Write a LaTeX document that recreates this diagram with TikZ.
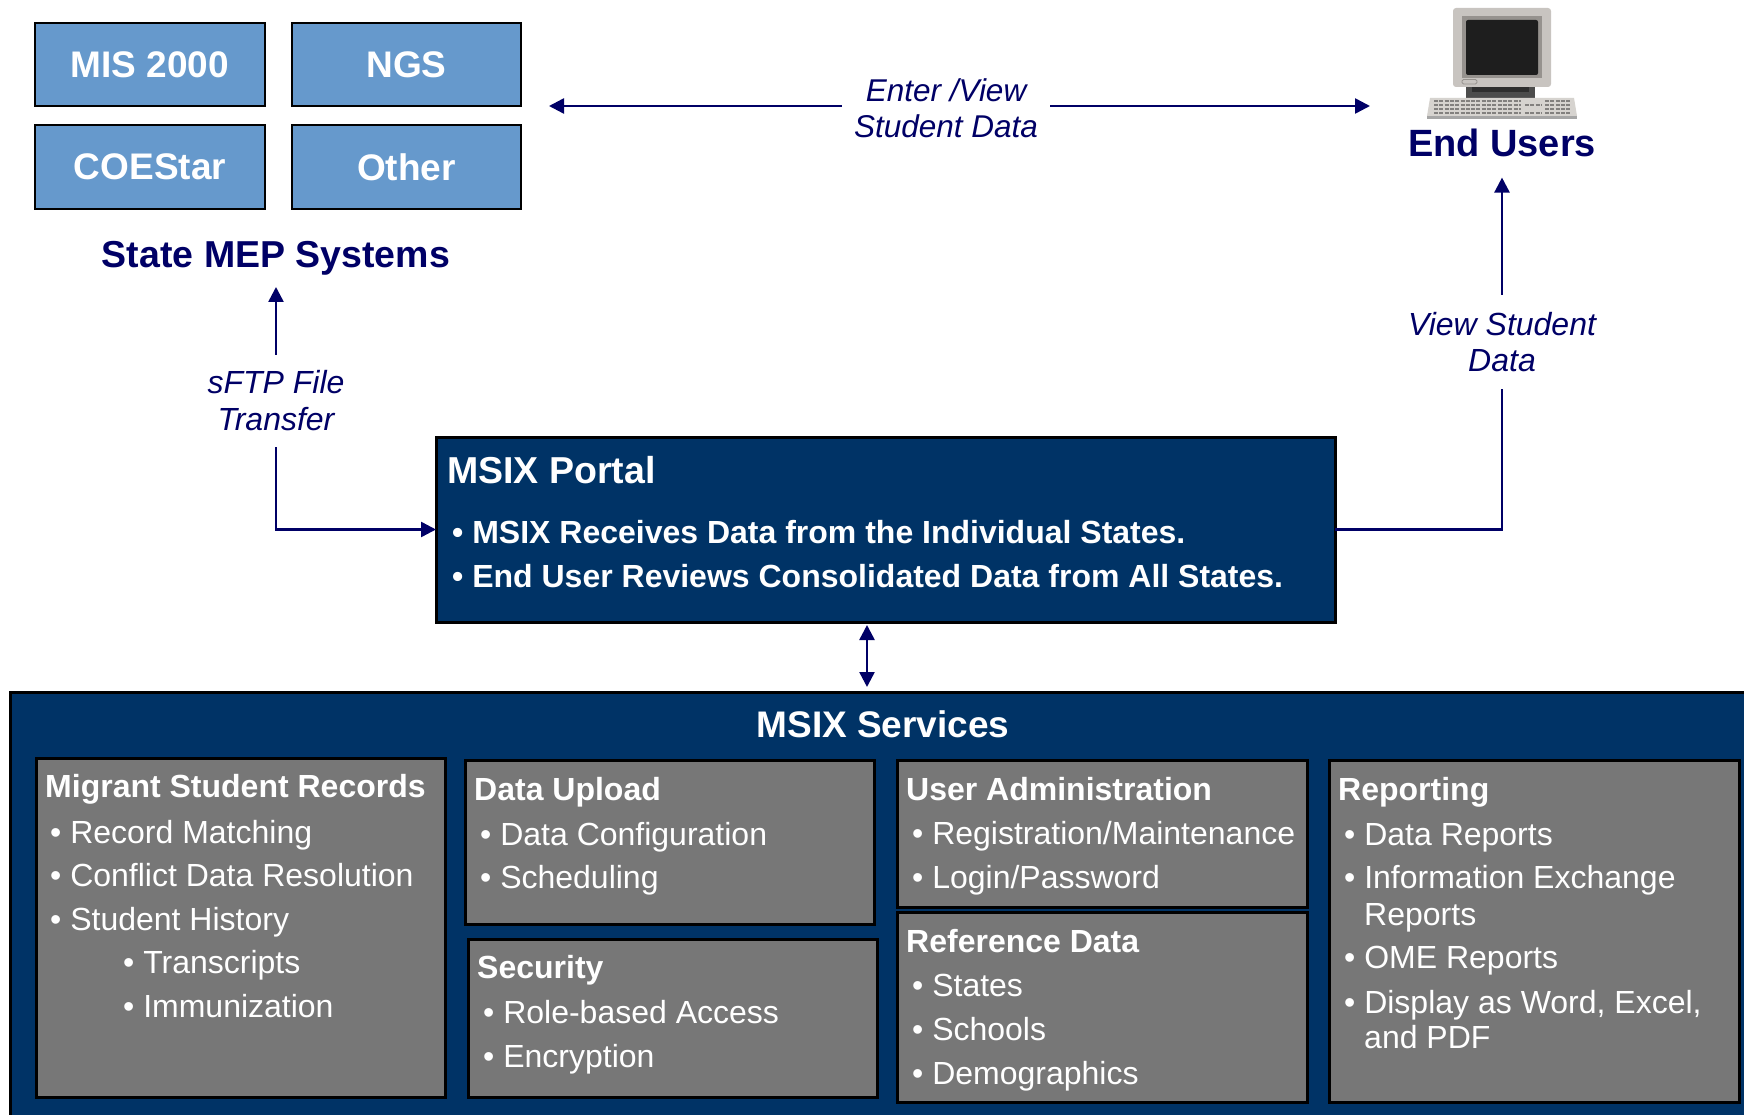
\documentclass[tikz,border=0pt]{standalone}
\usepackage{fontspec}
\setmainfont{Liberation Sans}
\usetikzlibrary{arrows.meta,calc}
\definecolor{sysblue}{RGB}{102,153,204}
\definecolor{msixnavy}{RGB}{0,51,102}
\definecolor{svcgray}{RGB}{119,119,119}
\definecolor{arrnavy}{RGB}{0,0,102}
\definecolor{monc}{RGB}{200,196,192}
\definecolor{bezelc}{RGB}{150,146,142}
\definecolor{screenc}{RGB}{30,30,30}
\definecolor{keybc}{RGB}{214,211,207}
\definecolor{keyc}{RGB}{130,128,126}
\tikzset{
 sysbox/.style={draw=black, line width=2.5pt, fill=sysblue, inner sep=0pt, outer sep=0pt, text=white, font=\fontsize{37}{42}\selectfont\bfseries},
 navybox/.style={draw=black, line width=3pt, fill=msixnavy, inner sep=0pt, outer sep=0pt, anchor=north west},
 svcbox/.style={draw=black, line width=3pt, fill=svcgray, inner sep=0pt, outer sep=0pt, anchor=north west},
 ttl/.style={anchor=base west, inner sep=0pt, text=white, font=\fontsize{32}{38}\selectfont\bfseries},
 itm/.style={anchor=base west, inner sep=0pt, text=white, font=\fontsize{32}{38}\selectfont},
 arr/.style={draw=arrnavy, line width=2.5pt, -{Triangle[length=15pt,width=15pt]}},
 dblarr/.style={draw=arrnavy, line width=2.5pt, {Triangle[length=15pt,width=15pt]}-{Triangle[length=15pt,width=15pt]}},
 ln/.style={draw=arrnavy, line width=2.5pt},
 lbl/.style={text=arrnavy, font=\fontsize{32}{36}\selectfont\itshape, align=center, inner sep=0pt},
 hdr/.style={text=arrnavy, font=\fontsize{37.5}{42}\selectfont\bfseries, inner xsep=0pt},
}
\begin{document}
\begin{tikzpicture}[x=1pt,y=-1pt]
\useasboundingbox (0,0) rectangle (1744,1115);
\clip (0,0) rectangle (1744,1115);
\fill[white] (0,0) rectangle (1744,1115);

% State MEP systems
\node[sysbox, minimum width=230pt, minimum height=83pt] (mis) at (150,64.5) {MIS 2000};
\node[sysbox, minimum width=229pt, minimum height=83pt] (ngs) at (406.5,64.5) {NGS};
\node[sysbox, minimum width=230pt, minimum height=84pt] (coe) at (150,167) {COEStar};
\node[sysbox, minimum width=229pt, minimum height=84pt] (oth) at (406.5,167) {Other};
\node[hdr, inner ysep=11pt, anchor=base] (stmep) at (276,268) {State MEP Systems};

% End users computer
\fill[monc, rounded corners=3pt] (1453,8) rectangle (1551,87);
\fill[bezelc] (1462,16) rectangle (1542,78);
\fill[screenc, rounded corners=2pt] (1466,20) rectangle (1538,75);
\draw[bezelc, line width=0.8pt, rounded corners=1.5pt] (1462,79.5) rectangle (1477,84);
\fill[black!70] (1466,87) rectangle (1535,98);
\fill[black!82] (1472,87) rectangle (1529,92);
\fill[keybc] (1430,98) -- (1574,98) -- (1577,116) -- (1427,116) -- cycle;
\fill[black!35] (1427,116) rectangle (1577,119);
\foreach \yy in {101,105,109,113}{
  \draw[keyc, line width=2.6pt, dash pattern=on 4pt off 1.3pt] (1434,\yy) -- (1521,\yy);
  \draw[keyc, line width=2.6pt, dash pattern=on 4pt off 1.3pt] (1545,\yy) -- (1571,\yy);
}
\foreach \yy in {105,113}{
  \draw[keyc, line width=2.6pt, dash pattern=on 4pt off 1.3pt] (1525,\yy) -- (1541,\yy);
}
\node[hdr, font=\fontsize{38}{42}\selectfont\bfseries, inner ysep=20pt, anchor=base] (endusers) at (1502,157) {End Users};

% labels on connectors
\node[lbl, font=\fontsize{31.5}{36}\selectfont\itshape, minimum width=208pt] (enterlbl) at (946,106) {\rule{0pt}{27pt}Enter /View\\Student Data};
\coordinate (smin) at (549,106);
\coordinate (euin) at (1370,106);
\node[lbl, minimum height=92pt, font=\fontsize{32}{37}\selectfont\itshape] (sftp) at (276,401) {sFTP File\\Transfer};
\node[lbl, minimum height=94pt] (viewlbl) at (1502,342) {View Student\\Data};

% MSIX portal
\node[navybox, minimum width=899pt, minimum height=185pt] (portal) at (436,437) {};
\node[ttl, font=\fontsize{37.5}{42}\selectfont\bfseries] (ptitle) at (447,483) {MSIX Portal};
\node[ttl] (pb1) at (452,543) {• MSIX Receives Data from the Individual States.};
\node[ttl] (pb2) at (452,587) {• End User Reviews Consolidated Data from All States.};

% MSIX services
\node[navybox, minimum width=1760pt, minimum height=440pt] (services) at (10,692) {};
\node[ttl, anchor=base, font=\fontsize{37}{42}\selectfont\bfseries] (stitle) at (883,737) {MSIX Services};

\node[svcbox, minimum width=409pt, minimum height=339pt] (msr) at (36,758) {};
\node[ttl] (msrt) at (45,797) {Migrant Student Records};
\node[itm] (msr1) at (50,843) {• Record Matching};
\node[itm] (msr2) at (50,886.5) {• Conflict Data Resolution};
\node[itm] (msr3) at (50,930) {• Student History};
\node[itm] (msr4) at (123,973.5) {• Transcripts};
\node[itm] (msr5) at (123,1017) {• Immunization};

\node[svcbox, minimum width=409pt, minimum height=164pt] (dup) at (465,760) {};
\node[ttl] (dupt) at (474,800) {Data Upload};
\node[itm] (dup1) at (480,845) {• Data Configuration};
\node[itm] (dup2) at (480,888) {• Scheduling};

\node[svcbox, minimum width=409pt, minimum height=158pt] (sec) at (468,939) {};
\node[ttl] (sect) at (477,978) {Security};
\node[itm] (sec1) at (483,1023) {• Role-based Access};
\node[itm] (sec2) at (483,1067) {• Encryption};

\node[svcbox, minimum width=410pt, minimum height=147pt] (uadm) at (897,760) {};
\node[ttl] (uadmt) at (906,800) {User Administration};
\node[itm] (uadm1) at (912,844) {• Registration/Maintenance};
\node[itm] (uadm2) at (912,888) {• Login/Password};

\node[svcbox, minimum width=410pt, minimum height=190pt] (refd) at (897,912) {};
\node[ttl] (refdt) at (906,952) {Reference Data};
\node[itm] (refd1) at (912,996) {• States};
\node[itm] (refd2) at (912,1040) {• Schools};
\node[itm] (refd3) at (912,1084) {• Demographics};

\node[svcbox, minimum width=410pt, minimum height=342pt] (rep) at (1329,760) {};
\node[ttl] (rept) at (1338,800) {Reporting};
\node[itm] (rep1) at (1344,845) {• Data Reports};
\node[itm] (rep2) at (1344,888) {• Information Exchange};
\node[itm] (rep2b) at (1364,925) {Reports};
\node[itm] (rep3) at (1344,968) {• OME Reports};
\node[itm] (rep4) at (1344,1013) {• Display as Word, Excel,};
\node[itm] (rep4b) at (1364,1048) {and PDF};

% connectors
\draw[arr] (enterlbl) -- (smin);
\draw[arr] (enterlbl) -- (euin);
\draw[arr] (sftp) -- (stmep);
\draw[arr] (sftp) |- (portal.west);
\draw[ln] (portal.east) -| (viewlbl);
\draw[arr] (viewlbl) -- (endusers);
\draw[dblarr, shorten <=3pt, shorten >=5pt] ([xshift=-18.5pt]portal.south) -- ([xshift=-18.5pt]portal.south |- services.north);
\end{tikzpicture}
\end{document}
